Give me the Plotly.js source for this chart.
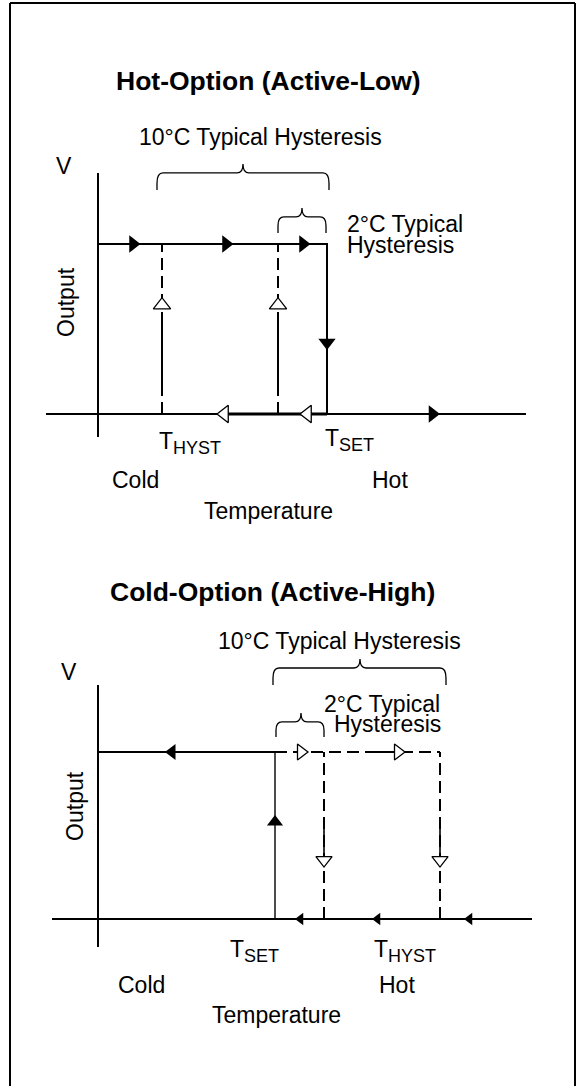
<!DOCTYPE html>
<html><head><meta charset="utf-8">
<script src="https://cdn.plot.ly/plotly-3.0.1.min.js"></script>
<style>html,body{margin:0;padding:0;background:#fff}</style>
</head><body><div id="chart" style="width:578px;height:1086px"></div>
<script>
// ---------------- DATA (schematic temperature units; output 0 = low, 1 = high) ----------------
const outputLevels = [0, 1];
const tickLabels = ['T<sub><span style="font-size:18px">HYST</span></sub>', 'T<sub><span style="font-size:18px">SET</span></sub>'];
const sideLabels = ['Cold', 'Hot'];
const titles = ['Hot-Option (Active-Low)', 'Cold-Option (Active-High)'];
const hystLabels = ['10°C Typical Hysteresis', '2°C Typical', 'Hysteresis'];

// Hot-Option (Active-Low)
const hotThresholdX = [6.4, 18.0, 22.9];          // T_HYST (10°C), 2°C point, T_SET
const hotAxisX = [-5.2, 42.8];
const hotAxisY = [-0.135, 1.418];
const hotPathX = [0, 22.9, 22.9];
const hotPathY = [1, 1, 0];
const hotReturnX = [13.0, 22.9];
const hotHighArrowX = [3.5, 12.8, 20.5];
const hotDropArrowY = [0.42];
const hotRiseSolidY = [0.153, 0.6];
const hotRiseArrowY = [0.64, 0.64];
const hotBackArrowX = [12.65, 20.95];
const hotOutArrowX = [33.45];
const hotBrace10 = [5.9, 23.1, 14.5];              // start, end, tip
const hotBrace2 = [18.0, 22.8, 20.4];

// Cold-Option (Active-High)
const coldThresholdX = [17.7, 22.6, 34.2];        // T_SET, 2°C point, T_HYST (10°C)
const coldAxisX = [-4.6, 43.4];
const coldAxisY = [-0.168, 1.401];
const coldPathX = [0, 17.7, 17.7];
const coldPathY = [1, 1, 0];
const coldHighArrowX = [7.4];
const coldRiseArrowY = [0.581];
const coldDashHighX = [17.7, 34.2];
const coldSolidHighX = [26.7, 29.7];
const coldFwdArrowX = [20.3, 30.0];
const coldFallSolidY = [0.383, 0.611];
const coldFallArrowY = [0.353, 0.353];
const coldAxisArrowX = [20.25, 27.95, 37.15];
const coldBrace10 = [17.5, 34.8, 26.2];
const coldBrace2 = [17.8, 22.6, 20.3];

// ---------------- BUILD ----------------
const FONT = 'Arial, "Liberation Sans", sans-serif';
const traces = [];
function line(xa, ya, xs, ys, width, dash) {
  traces.push({type:'scatter', mode:'lines', x:xs, y:ys, xaxis:xa, yaxis:ya, cliponaxis:false,
    line:{color:'#000', width:width, dash:dash || 'solid'}, hoverinfo:'skip', showlegend:false});
}
function arrows(xa, ya, xs, ys, symbol, size, hollow) {
  traces.push({type:'scatter', mode:'markers', x:xs, y:ys, xaxis:xa, yaxis:ya, cliponaxis:false,
    marker:{symbol:symbol, size:size, color: hollow ? '#fff' : '#000',
      line:{color:'#000', width: hollow ? 1.3 : 0}}, hoverinfo:'skip', showlegend:false});
}
const DASH = '12px,6px';

// ---- Hot panel (x, y)
line('x','y', hotAxisX, [0,0], 2);
line('x','y', [0,0], hotAxisY, 2);
line('x','y', [hotThresholdX[0],hotThresholdX[0]], outputLevels, 2, DASH);
line('x','y', [hotThresholdX[1],hotThresholdX[1]], outputLevels, 2, DASH);
line('x','y', [hotThresholdX[0],hotThresholdX[0]], hotRiseSolidY, 2);
line('x','y', [hotThresholdX[1],hotThresholdX[1]], hotRiseSolidY, 2);
line('x','y', hotPathX, hotPathY, 2);
line('x','y', hotReturnX, [0,0], 3.2);
arrows('x','y', hotHighArrowX, hotHighArrowX.map(() => outputLevels[1]), 'triangle-right', 15, false);
arrows('x','y', [hotThresholdX[2]], hotDropArrowY, 'triangle-down', 15, false);
arrows('x','y', hotThresholdX.slice(0,2), hotRiseArrowY, 'triangle-up', 15, true);
arrows('x','y', hotBackArrowX, hotBackArrowX.map(() => outputLevels[0]), 'triangle-left', 15, true);
arrows('x','y', hotOutArrowX, [outputLevels[0]], 'triangle-right', 15, false);

// ---- Cold panel (x2, y2)
line('x2','y2', coldAxisX, [0,0], 2);
line('x2','y2', [0,0], coldAxisY, 2);
line('x2','y2', coldDashHighX, [1,1], 2, DASH);
line('x2','y2', [coldThresholdX[1],coldThresholdX[1]], outputLevels, 2, DASH);
line('x2','y2', [coldThresholdX[2],coldThresholdX[2]], outputLevels, 2, DASH);
line('x2','y2', coldSolidHighX, [1,1], 2);
line('x2','y2', [coldThresholdX[1],coldThresholdX[1]], coldFallSolidY, 1.6);
line('x2','y2', [coldThresholdX[2],coldThresholdX[2]], coldFallSolidY, 1.6);
line('x2','y2', coldPathX.slice(0,2), coldPathY.slice(0,2), 2);
line('x2','y2', coldPathX.slice(1), coldPathY.slice(1), 1.4);
arrows('x2','y2', coldHighArrowX, [1], 'triangle-left', 14, false);
arrows('x2','y2', [coldThresholdX[0]], coldRiseArrowY, 'triangle-up', 14, false);
arrows('x2','y2', coldFwdArrowX, [1,1], 'triangle-right', 14, true);
arrows('x2','y2', coldThresholdX.slice(1), coldFallArrowY, 'triangle-down', 14, true);
arrows('x2','y2', coldAxisArrowX, coldAxisArrowX.map(() => 0), 'triangle-left', 11, false);

// ---- Braces
function brace(xr, yr, b, yTop, yEnd, yPeak, cy) {
  const [x0, x1, xm] = b, cx = 0.6;
  const p = `M${x0},${yEnd} L${x0},${yTop-cy} Q${x0},${yTop} ${x0+cx},${yTop} L${xm-cx},${yTop} ` +
            `Q${xm},${yTop} ${xm},${yPeak} Q${xm},${yTop} ${xm+cx},${yTop} L${x1-cx},${yTop} ` +
            `Q${x1},${yTop} ${x1},${yTop-cy} L${x1},${yEnd}`;
  return {type:'path', xref:xr, yref:yr, path:p, line:{color:'#000', width:1.3}};
}
const shapes = [
  brace('x','y', hotBrace10, 1.418, 1.318, 1.471, 0.06),
  brace('x','y', hotBrace2, 1.159, 1.065, 1.212, 0.05),
  brace('x2','y2', coldBrace10, 1.503, 1.401, 1.557, 0.06),
  brace('x2','y2', coldBrace2, 1.180, 1.090, 1.234, 0.05),
  {type:'line', xref:'paper', yref:'paper', x0:10/578, x1:10/578, y0:0, y1:1-3/1086, line:{color:'#000', width:2}},
  {type:'line', xref:'paper', yref:'paper', x0:10/578, x1:575/578, y0:1-3/1086, y1:1-3/1086, line:{color:'#000', width:2}},
  {type:'line', xref:'paper', yref:'paper', x0:575/578, x1:575/578, y0:0, y1:1-3/1086, line:{color:'#000', width:2}}
];

// ---- Text
function txt(xr, yr, x, y, text, opts) {
  return Object.assign({xref:xr, yref:yr, x:x, y:y, text:text, showarrow:false,
    xanchor:'center', yanchor:'middle', font:{family:FONT, size:23, color:'#000'}}, opts || {});
}
const annotations = [
  txt('x','y', 17.0, 1.959, '<b>' + titles[0] + '</b>', {font:{family:FONT, size:26.5, color:'#000'}}),
  txt('x','y', 16.2, 1.629, hystLabels[0]),
  txt('x','y', 24.7, 1.115, hystLabels[1], {xanchor:'left'}),
  txt('x','y', 24.7, 0.995, hystLabels[2], {xanchor:'left'}),
  txt('x','y', -3.4, 1.459, 'V'),
  txt('x','y', -3.2, 0.659, 'Output', {textangle:-90}),
  txt('x','y', hotThresholdX[0] - 0.55, -0.17, tickLabels[0], {xanchor:'left'}),
  txt('x','y', hotThresholdX[2] - 0.45, -0.15, tickLabels[1], {xanchor:'left'}),
  txt('x','y', 3.7, -0.388, sideLabels[0]),
  txt('x','y', 29.2, -0.388, sideLabels[1]),
  txt('x','y', 17.0, -0.571, 'Temperature'),

  txt('x2','y2', 17.4, 1.958, '<b>' + titles[1] + '</b>', {font:{family:FONT, size:26.5, color:'#000'}}),
  txt('x2','y2', 24.1, 1.665, hystLabels[0]),
  txt('x2','y2', 34.4, 1.290, hystLabels[1], {xanchor:'right'}),
  txt('x2','y2', 34.5, 1.165, hystLabels[2], {xanchor:'right'}),
  txt('x2','y2', -2.9, 1.479, 'V'),
  txt('x2','y2', -2.3, 0.677, 'Output', {textangle:-90}),
  txt('x2','y2', 13.0, -0.19, tickLabels[1], {xanchor:'left'}),
  txt('x2','y2', 27.4, -0.19, tickLabels[0], {xanchor:'left'}),
  txt('x2','y2', 4.3, -0.395, sideLabels[0]),
  txt('x2','y2', 29.9, -0.395, sideLabels[1]),
  txt('x2','y2', 17.8, -0.575, 'Temperature')
];

const hidden = {visible:false, fixedrange:true};
const layout = {
  width:578, height:1086, margin:{l:0, r:0, t:0, b:0, pad:0},
  paper_bgcolor:'#fff', plot_bgcolor:'#fff', showlegend:false,
  xaxis: Object.assign({domain:[0,1], range:[-9.8, 48.0], anchor:'y'}, hidden),
  yaxis: Object.assign({domain:[0.5,1], range:[-0.7588, 2.4353], anchor:'x'}, hidden),
  xaxis2: Object.assign({domain:[0,1], range:[-9.8, 48.0], anchor:'y2'}, hidden),
  yaxis2: Object.assign({domain:[0,0.5], range:[-1.0, 2.2515], anchor:'x2'}, hidden),
  shapes: shapes, annotations: annotations
};
Plotly.newPlot('chart', traces, layout, {staticPlot:true, displayModeBar:false});
</script></body></html>
